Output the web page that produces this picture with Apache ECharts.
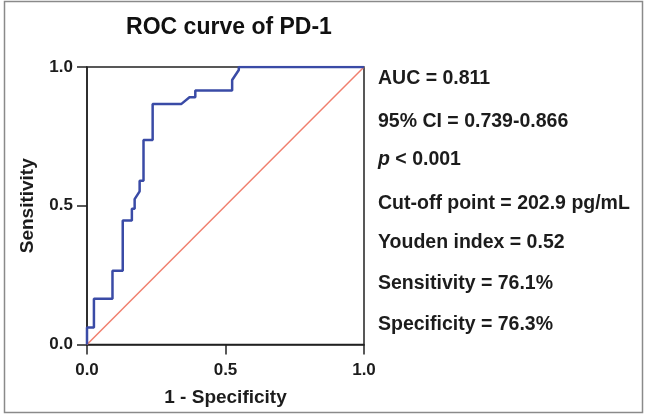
<!DOCTYPE html>
<html>
<head>
<meta charset="utf-8">
<script src="https://cdn.jsdelivr.net/npm/echarts@6/dist/echarts.min.js"></script>
<style>
  html, body { margin: 0; padding: 0; background: #fff; }
  #chart { width: 646px; height: 420px; }
</style>
</head>
<body>
<div id="chart"></div>
<script>
// ROC 曲线的点 (1 - 特异度, 灵敏度)
var fpr = [0, 0, 0.025, 0.025, 0.092, 0.092, 0.129, 0.129, 0.162, 0.162, 0.172, 0.172, 0.190, 0.190, 0.204, 0.204, 0.237, 0.237, 0.341, 0.370, 0.391, 0.391, 0.524, 0.524, 0.548, 0.548, 1];
var tpr = [0, 0.061, 0.061, 0.165, 0.165, 0.266, 0.266, 0.447, 0.447, 0.489, 0.489, 0.524, 0.552, 0.590, 0.590, 0.737, 0.737, 0.867, 0.867, 0.891, 0.891, 0.915, 0.915, 0.953, 0.989, 1, 1];
// 参考线
var refLine = [[0, 0], [1, 1]];
var tickLabels = ['0.0', '0.5', '1.0'];
var statLines = [
    'AUC = 0.811',
    '95% CI = 0.739-0.866',
    '{i|p} < 0.001',
    'Cut-off point = 202.9 pg/mL',
    'Youden index = 0.52',
    'Sensitivity = 76.1%',
    'Specificity = 76.3%'
];
var statY = [78, 121, 159, 203, 242, 283, 324];

var rocData = fpr.map(function (x, i) { return [x, tpr[i]]; });

var font = 'Liberation Sans, Arial, sans-serif';
var axisColor = '#222';
var statSize = 19.5;

function fmt(v) {
    return tickLabels[Math.round(v * 2)];
}

var rocChart = echarts.init(document.getElementById('chart'));

var statText = statLines.map(function (t, i) {
    return {
        type: 'text',
        left: 378,
        top: statY[i] - statSize / 2,
        style: {
            text: t,
            fill: '#1c1c1c',
            font: 'bold ' + statSize + 'px ' + font,
            rich: {
                i: { fontStyle: 'italic', fontWeight: 'bold', fontSize: statSize, fontFamily: font, fill: '#1c1c1c' }
            }
        }
    };
});

var option = {
    animation: false,
    title: {
        text: 'ROC curve of PD-1',
        left: 224,
        textAlign: 'center',
        top: 11,
        textStyle: { fontFamily: font, fontSize: 23, fontWeight: 'bold', color: '#111' }
    },
    grid: {
        left: 87,
        right: 282,
        top: 67,
        bottom: 75.5,
        show: true,
        borderColor: axisColor,
        borderWidth: 1.5
    },
    xAxis: {
        type: 'value',
        min: 0,
        max: 1,
        interval: 0.5,
        name: '1 - Specificity',
        nameLocation: 'middle',
        nameGap: 44,
        nameTextStyle: { fontFamily: font, fontSize: 19, fontWeight: 'bold', color: '#1c1c1c' },
        axisLine: { show: true, lineStyle: { color: axisColor, width: 1.5 } },
        axisTick: { show: true, length: 10, lineStyle: { color: axisColor, width: 1.5 } },
        axisLabel: { margin: 17, formatter: fmt, fontFamily: font, fontSize: 17, fontWeight: 'bold', color: '#1c1c1c' },
        splitLine: { show: false }
    },
    yAxis: {
        type: 'value',
        min: 0,
        max: 1,
        interval: 0.5,
        name: 'Sensitivity',
        nameLocation: 'middle',
        nameGap: 50,
        nameTextStyle: { fontFamily: font, fontSize: 19, fontWeight: 'bold', color: '#1c1c1c' },
        axisLine: { show: true, lineStyle: { color: axisColor, width: 1.5 } },
        axisTick: { show: true, length: 10, lineStyle: { color: axisColor, width: 1.5 } },
        axisLabel: { margin: 14, formatter: fmt, fontFamily: font, fontSize: 17, fontWeight: 'bold', color: '#1c1c1c' },
        splitLine: { show: false }
    },
    series: [{
        name: 'reference',
        type: 'line',
        data: refLine,
        symbol: 'none',
        lineStyle: { color: '#f07f6e', width: 1.5 },
        z: 2
    }, {
        name: 'ROC',
        type: 'line',
        data: rocData,
        symbol: 'none',
        lineStyle: { color: '#3a4ba6', width: 2.5 },
        z: 3
    }],
    graphic: [{
        type: 'rect',
        shape: { x: 4.5, y: 1.5, width: 638, height: 411 },
        style: { fill: 'none', stroke: '#8a8a8a', lineWidth: 1.5 },
        silent: true
    }].concat(statText)
};

rocChart.setOption(option);
</script>
</body>
</html>
